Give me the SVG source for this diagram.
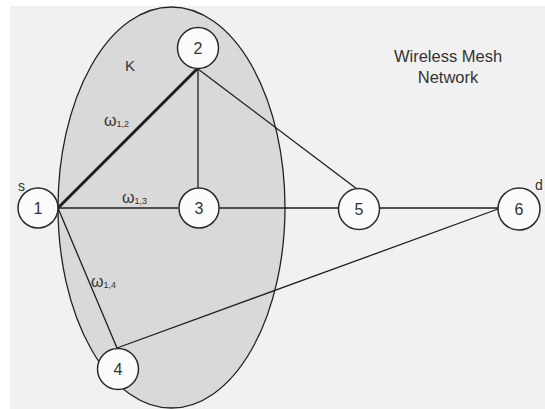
<svg xmlns="http://www.w3.org/2000/svg" width="545" height="409" viewBox="0 0 545 409">
  <style>
    .edge { stroke: #1e1e1e; stroke-width: 1.3; fill: none; }
    .thick { stroke-width: 3; }
    .node circle { fill: #fbfbfb; stroke: #2a2a2a; stroke-width: 1.5; }
    .node text { font-family: "Liberation Sans", Arial, sans-serif; font-size: 16px; fill: #333; text-anchor: middle; }
    .lbl { font-family: "Liberation Sans", Arial, sans-serif; fill: #333; }
    .w { font-size: 16px; }
    .sub { font-size: 9px; }
  </style>
  <!-- canvas -->
  <rect x="0" y="0" width="545" height="409" fill="#ffffff"/>
  <rect x="10" y="6" width="535" height="403" fill="#f1f1f1"/>

  <!-- cluster K -->
  <g id="cluster-K">
    <ellipse cx="171.5" cy="207.5" rx="113.5" ry="200.5" fill="#d9d9d9" stroke="#222" stroke-width="1.3"/>
    <text class="lbl" x="130" y="71" font-size="15" text-anchor="middle">K</text>
  </g>

  <!-- links -->
  <g id="connectors">
    <line class="edge thick" x1="58" y1="208" x2="197" y2="69"/>
    <line class="edge" x1="198" y1="69" x2="198" y2="188"/>
    <line class="edge" x1="198" y1="69" x2="357" y2="189"/>
    <line class="edge" x1="58" y1="208" x2="178" y2="208"/>
    <line class="edge" x1="219" y1="208" x2="338" y2="208"/>
    <line class="edge" x1="380" y1="208" x2="498" y2="208"/>
    <line class="edge" x1="58" y1="208" x2="117" y2="348"/>
    <line class="edge" x1="117" y1="348" x2="498" y2="209"/>
  </g>

  <!-- link weights -->
  <g id="weights">
    <text class="lbl w" x="104" y="126">ω<tspan class="sub" dy="1">1,2</tspan></text>
    <text class="lbl w" x="122" y="203">ω<tspan class="sub" dy="1">1,3</tspan></text>
    <text class="lbl w" x="91" y="287">ω<tspan class="sub" dy="1">1,4</tspan></text>
  </g>

  <!-- nodes -->
  <g id="node-1" class="node">
    <circle cx="38" cy="208" r="20"/>
    <text x="38" y="214">1</text>
  </g>
  <g id="node-2" class="node">
    <circle cx="198" cy="48" r="20.5"/>
    <text x="198" y="54">2</text>
  </g>
  <g id="node-3" class="node">
    <circle cx="199" cy="208" r="20"/>
    <text x="199" y="214">3</text>
  </g>
  <g id="node-4" class="node">
    <circle cx="118" cy="369" r="20.5"/>
    <text x="118" y="375">4</text>
  </g>
  <g id="node-5" class="node">
    <circle cx="359" cy="209" r="20.5"/>
    <text x="359" y="215">5</text>
  </g>
  <g id="node-6" class="node">
    <circle cx="519" cy="209" r="21"/>
    <text x="519" y="215">6</text>
  </g>

  <!-- source / destination tags -->
  <text class="lbl" x="18" y="191" font-size="14">s</text>
  <text class="lbl" x="535" y="190" font-size="14">d</text>

  <!-- title -->
  <g id="title">
    <text class="lbl" x="448" y="62" font-size="16.5" text-anchor="middle">Wireless Mesh</text>
    <text class="lbl" x="448" y="83" font-size="16.5" text-anchor="middle">Network</text>
  </g>
</svg>
